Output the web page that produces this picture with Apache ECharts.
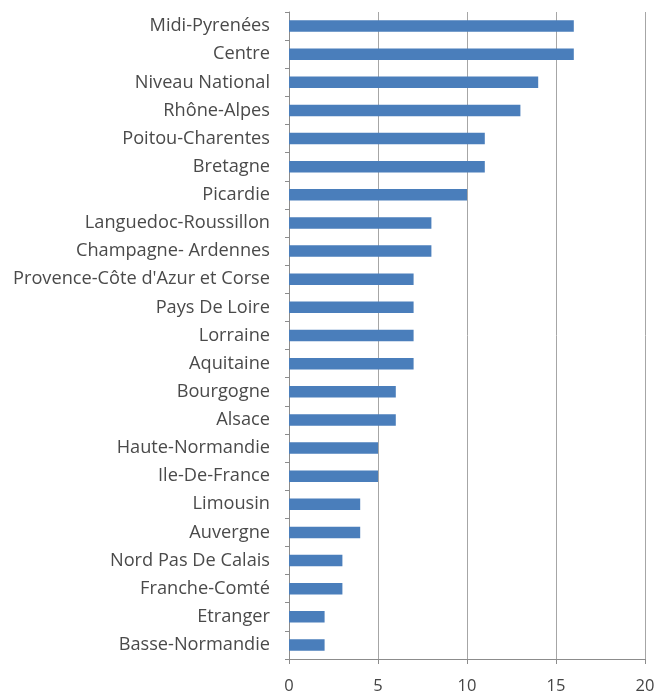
<!DOCTYPE html>
<html>
<head>
<meta charset="utf-8">
<script src="https://cdn.jsdelivr.net/npm/echarts@6/dist/echarts.min.js"></script>
<style>
  html, body { margin: 0; padding: 0; background: #fff; }
  #chart { width: 658px; height: 695px; }
</style>
</head>
<body>
<div id="chart"></div>
<script>
// Regions, listed from top to bottom
const regions = [
  "Midi-Pyrenées", "Centre", "Niveau National", "Rhône-Alpes", "Poitou-Charentes",
  "Bretagne", "Picardie", "Languedoc-Roussillon", "Champagne- Ardennes",
  "Provence-Côte d'Azur et Corse", "Pays De Loire", "Lorraine", "Aquitaine",
  "Bourgogne", "Alsace", "Haute-Normandie", "Ile-De-France", "Limousin",
  "Auvergne", "Nord Pas De Calais", "Franche-Comté", "Etranger", "Basse-Normandie"
];
const values = [16, 16, 14, 13, 11, 11, 10, 8, 8, 7, 7, 7, 7, 6, 6, 5, 5, 4, 4, 3, 3, 2, 2];
const xTicks = [0, 5, 10, 15, 20];

const chart = echarts.init(document.getElementById('chart'), null, { renderer: 'canvas' });
const font = '"Open Sans", Lato, sans-serif';

chart.setOption({
  animation: false,
  grid: { left: 289, right: 13, top: 12, bottom: 35, containLabel: false },
  xAxis: {
    type: 'value',
    min: xTicks[0],
    max: xTicks[xTicks.length - 1],
    interval: 5,
    axisLine: { show: true, lineStyle: { color: '#8c8c8c', width: 1 } },
    axisTick: { show: true, length: 5, lineStyle: { color: '#8c8c8c' } },
    axisLabel: { color: '#454545', fontFamily: font, fontSize: 16.5, margin: 19 },
    splitLine: { show: true, lineStyle: { color: '#a6a6a6', width: 1 } }
  },
  yAxis: {
    type: 'category',
    data: regions,
    inverse: true,
    axisLine: { show: true, lineStyle: { color: '#8c8c8c', width: 1 } },
    axisTick: { show: true, length: 4, inside: false, lineStyle: { color: '#8c8c8c' } },
    axisLabel: { color: '#4a4a4a', fontFamily: font, fontSize: 18.2, margin: 19 }
  },
  series: [{
    type: 'bar',
    data: values,
    barWidth: 11.5,
    itemStyle: { color: '#4a7ebb' }
  }]
});
</script>
</body>
</html>
